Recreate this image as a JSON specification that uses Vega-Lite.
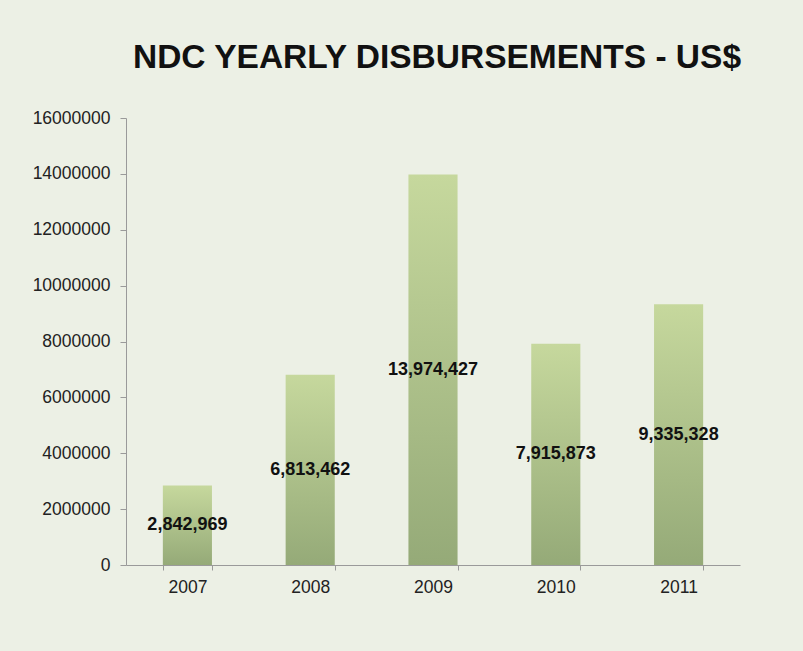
{
  "$schema": "https://vega.github.io/schema/vega-lite/v6.json",
  "width": 614,
  "height": 447,
  "autosize": {"type": "none"},
  "padding": {"left": 126, "top": 118, "right": 63, "bottom": 86},
  "background": "#ECF0E5",
  "title": {
    "text": "NDC YEARLY DISBURSEMENTS - US$",
    "font": "Liberation Sans",
    "fontSize": 33.5,
    "fontWeight": "bold",
    "color": "#111111",
    "anchor": "middle",
    "dx": 4,
    "offset": 34
  },
  "data": {
    "values": [
      {"year": "2007", "amount": 2842969, "label": "2,842,969"},
      {"year": "2008", "amount": 6813462, "label": "6,813,462"},
      {"year": "2009", "amount": 13974427, "label": "13,974,427"},
      {"year": "2010", "amount": 7915873, "label": "7,915,873"},
      {"year": "2011", "amount": 9335328, "label": "9,335,328"}
    ]
  },
  "encoding": {
    "x": {
      "field": "year",
      "type": "nominal",
      "scale": {"paddingInner": 0.6, "paddingOuter": 0.3},
      "axis": {
        "title": null,
        "labelAngle": 0,
        "labelFont": "Liberation Sans",
        "labelFontSize": 17.5,
        "labelColor": "#222222",
        "labelPadding": 8,
        "domainColor": "#9A9A9A",
        "tickColor": "#9A9A9A",
        "tickSize": 5,
        "tickBand": "extent"
      }
    }
  },
  "layer": [
    {
      "mark": {
        "type": "bar",
        "color": {
          "gradient": "linear",
          "x1": 0, "y1": 0, "x2": 0, "y2": 1,
          "stops": [
            {"offset": 0, "color": "#C6D89D"},
            {"offset": 1, "color": "#95AA78"}
          ]
        }
      },
      "encoding": {
        "y": {
          "field": "amount",
          "type": "quantitative",
          "scale": {"domain": [0, 16000000]},
          "axis": {
            "title": null,
            "values": [0, 2000000, 4000000, 6000000, 8000000, 10000000, 12000000, 14000000, 16000000],
            "format": "d",
            "grid": false,
            "labelFont": "Liberation Sans",
            "labelFontSize": 17.5,
            "labelColor": "#222222",
            "labelPadding": 10,
            "domainColor": "#9A9A9A",
            "tickColor": "#9A9A9A",
            "tickSize": 6
          }
        }
      }
    },
    {
      "transform": [{"calculate": "datum.amount / 2", "as": "mid"}],
      "mark": {
        "type": "text",
        "font": "Liberation Sans",
        "fontSize": 18,
        "fontWeight": "bold",
        "color": "#111111",
        "baseline": "middle",
        "align": "center"
      },
      "encoding": {
        "y": {"field": "mid", "type": "quantitative", "scale": {"domain": [0, 16000000]}},
        "text": {"field": "label"}
      }
    }
  ],
  "config": {
    "view": {"stroke": null}
  }
}
